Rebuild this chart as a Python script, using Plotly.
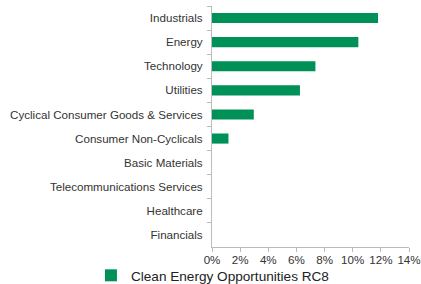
import plotly.graph_objects as go

categories = ["Industrials", "Energy", "Technology", "Utilities",
              "Cyclical Consumer Goods & Services", "Consumer Non-Cyclicals",
              "Basic Materials", "Telecommunications Services", "Healthcare", "Financials"]
values = [0.118, 0.104, 0.0735, 0.0625, 0.0297, 0.0117, 0, 0, 0, 0]
series_name = "Clean Energy Opportunities RC8"
tick_vals = [0, 0.02, 0.04, 0.06, 0.08, 0.10, 0.12, 0.14]
tick_text = ["0%", "2%", "4%", "6%", "8%", "10%", "12%", "14%"]

fig = go.Figure(go.Bar(
    x=values, y=categories, orientation="h", name=series_name,
    marker=dict(color="#009158", line=dict(width=0)),
    width=0.42, showlegend=True,
))

fig.update_layout(
    width=421, height=284,
    margin=dict(l=212, r=12, t=6, b=37, autoexpand=False),
    paper_bgcolor="white", plot_bgcolor="white",
    font=dict(family="Liberation Sans, Arial, sans-serif", size=11.6, color="#333333"),
    legend=dict(orientation="h", x=0.216, xanchor="left", xref="container",
                y=0.03, yanchor="middle", yref="container",
                font=dict(size=13.6, color="#222222"), itemwidth=30,
                bgcolor="rgba(0,0,0,0)"),
    xaxis=dict(range=[0, 0.14], tickvals=tick_vals, ticktext=tick_text,
               showgrid=False, zeroline=False, showline=True, linecolor="#bbbbbb",
               ticks="outside", ticklen=4, tickcolor="#bbbbbb", ticklabelstandoff=-2),
    yaxis=dict(autorange="reversed", showgrid=False, showline=True, linecolor="#bbbbbb",
               ticks="outside", ticklen=4, tickcolor="#bbbbbb", tickson="boundaries",
               ticklabelstandoff=6),
)

fig.write_html("out.html", config={"displayModeBar": False},
               post_script="document.body.style.margin='0';")
